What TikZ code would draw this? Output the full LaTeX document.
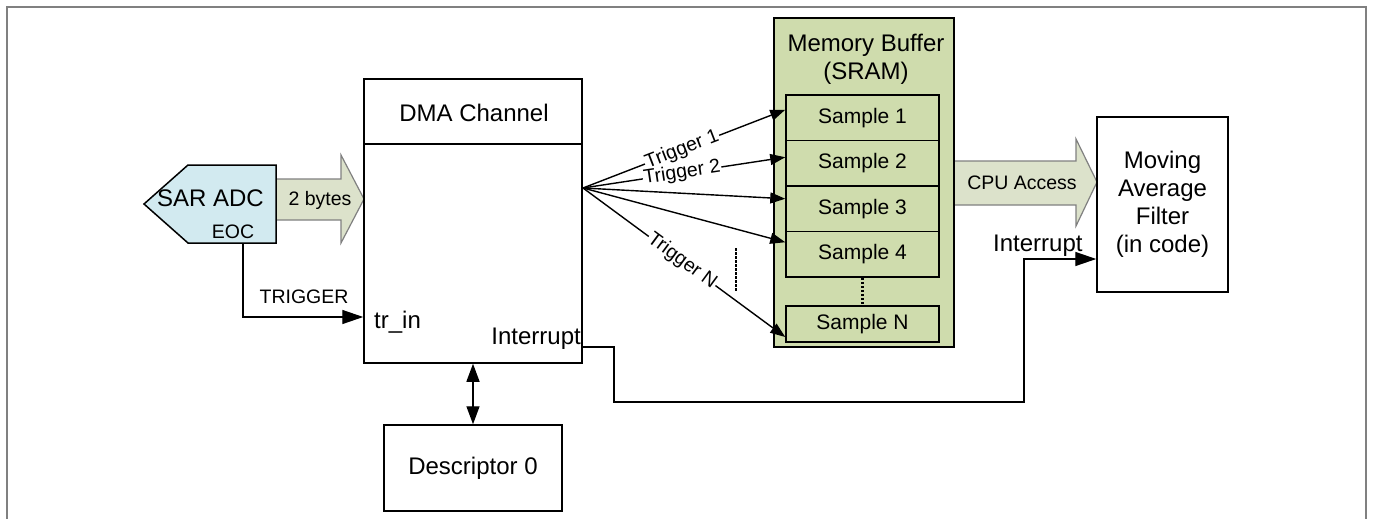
\documentclass[tikz,border=0pt]{standalone}
\usepackage{fontspec}
\setmainfont{Liberation Sans}
\usetikzlibrary{arrows.meta,calc}
\definecolor{adcblue}{HTML}{D2EAF0}
\definecolor{flowgreen}{HTML}{DCE2CB}
\definecolor{memgreen}{HTML}{CFDCAD}
\definecolor{framegray}{HTML}{808080}
\newcommand\dgBig{\fontsize{24}{28}\selectfont}
\newcommand\dgMid{\fontsize{21}{25}\selectfont}
\newcommand\dgSmall{\fontsize{19.5}{23}\selectfont}
\begin{document}
\begin{tikzpicture}[x=1pt,y=-1pt,
  box/.style={draw, line width=1.5pt, inner sep=0pt},
  sample/.style={box, fill=memgreen, minimum width=153pt, minimum height=45.5pt, font=\dgMid},
  flow/.style={draw=framegray, line width=1.2pt, fill=flowgreen},
  wire/.style={line width=1.4pt},
  tip/.style={-{Triangle[length=21pt,width=14pt]}},
  tiptrig/.style={-{Triangle[length=15pt,width=11pt]}},
  trig/.style={sloped, fill=white, inner sep=1pt, font=\dgSmall, pos=0.49},
  dots/.style={line width=2.2pt, dash pattern=on 2.5pt off 1.5pt},
  lbl/.style={inner sep=0pt}
]
\useasboundingbox (0,0) rectangle (1373,519);

% outer frame
\draw[framegray, line width=2pt] (6.5,519) -- (6.5,7) -- (1366,7) -- (1366,519);

% data flow arrows (drawn first, boxes cover their ends)
\draw[flow] (276,179) -- (341,179) -- (341,155) -- (364,199) -- (341,243) -- (341,220) -- (276,220);
\node[lbl, anchor=base, font=\dgSmall] (bytes) at (320,205) {2 bytes};
\draw[flow] (954,161) -- (1076,161) -- (1076,139) -- (1097,182) -- (1076,226) -- (1076,205) -- (954,205);
\node[lbl, anchor=base, font=\dgSmall] (cpu) at (1022,189) {CPU Access};

% SAR ADC
\draw[fill=adcblue, line width=1.5pt] (188,165) -- (276,165) -- (276,243) -- (188,243) -- (144,204) -- cycle;
\node[lbl, anchor=base, font=\dgBig] (adc) at (210.5,206) {SAR ADC};
\node[lbl, anchor=base, font=\dgSmall] (eoctxt) at (233,238) {EOC};
\coordinate (eoc) at (243,243);

% DMA channel
\node[box, minimum width=218pt, minimum height=284pt] (dma) at (473,221) {};
\draw[line width=1.5pt] (dma.west |- 0,144) -- (dma.east |- 0,144);
\node[lbl, anchor=base, font=\dgBig] (dmatitle) at (474,121) {DMA Channel};
\node[lbl, anchor=base west, font=\dgBig] (trin) at (374,328) {tr\_in};
\node[lbl, anchor=base east, font=\dgBig] (irqtxt) at (581,344) {Interrupt};
\coordinate (irq) at (582,347);
\coordinate (fan) at (583,188);

% descriptor
\node[box, minimum width=178pt, minimum height=86pt, font=\dgBig] (desc) at (473,468) {Descriptor 0};

% memory buffer
\node[box, fill=memgreen, minimum width=180pt, minimum height=329pt] (mem) at (864,182.5) {};
\node[lbl, anchor=base, font=\dgBig] (memt1) at (866,52) {Memory Buffer};
\node[lbl, anchor=base, font=\dgBig] (memt2) at (866,80) {(SRAM)};
\node[sample] (s1) at (862.5,117.75) {Sample 1};
\node[sample] (s2) at (862.5,163.25) {Sample 2};
\node[sample] (s3) at (862.5,208.75) {Sample 3};
\node[sample] (s4) at (862.5,254.25) {Sample 4};
\node[sample, minimum height=36pt] (sN) at (862.5,324) {Sample N};
\draw[dots] (s4.south) -- (sN.north);

% moving average filter
\node[box, minimum width=131pt, minimum height=175pt, align=center, font=\dgBig] (maf) at (1162.5,204.5) {Moving\\Average\\Filter\\(in code)};

% trigger fan-out
\draw[wire, tiptrig] (fan) -- ([yshift=8pt]s1.west) node[trig] {Trigger 1};
\draw[wire, tiptrig] (fan) -- ([yshift=6pt]s2.west) node[trig] {Trigger 2};
\draw[wire, tiptrig] (fan) -- ([yshift=10pt]s3.west);
\draw[wire, tiptrig] (fan) -- ([yshift=12pt]s4.west);
\draw[wire, tiptrig] (fan) -- ([yshift=-13pt]sN.west) node[trig] {Trigger N};
\draw[dots] (736,248) -- (736,292);

% ADC trigger
\draw[wire, tip] (eoc) |- (dma.west |- 0,317);
\node[lbl, anchor=base, font=\dgSmall] (trigtxt) at (304,303) {TRIGGER};

% descriptor link
\draw[wire, {Triangle[length=18pt,width=13pt]}-{Triangle[length=18pt,width=13pt]}] (dma.south) -- (desc.north);

% interrupt to filter
\draw[wire, tip] (irq) -- (614,347) |- (1024,402) |- (maf.west |- 0,259);
\node[lbl, anchor=base west, font=\dgBig] (irq2txt) at (993,251) {Interrupt};
\end{tikzpicture}
\end{document}
